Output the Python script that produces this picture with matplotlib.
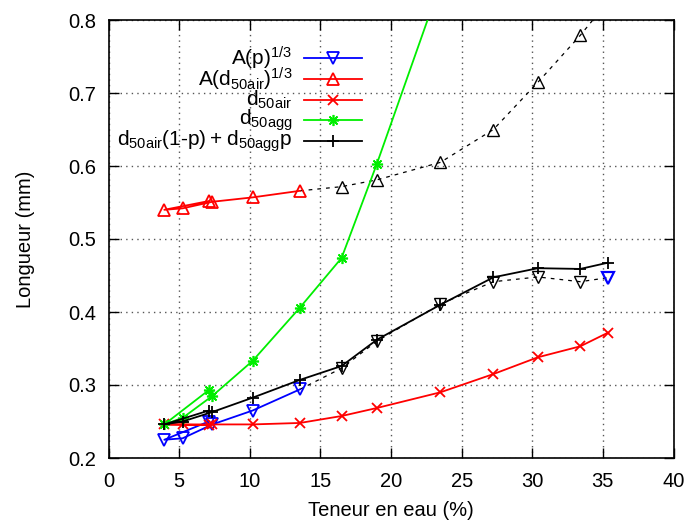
import matplotlib
matplotlib.use("Agg")
import matplotlib.pyplot as plt

plt.rcParams['font.family'] = ['Liberation Sans', 'DejaVu Sans']
plt.rcParams['mathtext.fontset'] = 'custom'
plt.rcParams['mathtext.rm'] = 'Liberation Sans'
plt.rcParams['mathtext.default'] = 'regular'

# teneur en eau (%), same order as the data file
w_dry = [7.1, 3.95, 5.25, 7.35, 10.2, 13.55]
w_wet = [16.5, 19.0, 23.5, 27.25, 30.4, 33.4]
w_last = [35.35]

ap_dry = [0.250, 0.225, 0.227, 0.246, 0.265, 0.294]
ap_wet = [0.323, 0.360, 0.411, 0.4415, 0.448, 0.4415]
ap_last = [0.447]

ad_dry = [0.552, 0.540, 0.542, 0.551, 0.557, 0.566]
ad_wet = [0.5717, 0.581, 0.605, 0.650, 0.7147, 0.779]
ad_last = [0.825]

w_all = w_dry + w_wet + w_last
d50air = [0.245, 0.246, 0.246, 0.246, 0.246, 0.248, 0.2575, 0.2685,
          0.290, 0.315, 0.338, 0.353, 0.3716]
d50agg = [0.293, 0.246, 0.255, 0.285, 0.333, 0.406, 0.474, 0.603, 0.85]
d50mix = [0.265, 0.246, 0.250, 0.263, 0.2826, 0.307, 0.326, 0.362,
          0.410, 0.4475, 0.460, 0.459, 0.4675]

blue = '#0000ff'
red = '#ff0000'
green = '#00ee00'

fig = plt.figure(figsize=(6.89, 5.24), dpi=100)
ax = fig.add_axes([108.5 / 689, 1 - 458 / 524, 565 / 689, 438 / 524])

dash = (0, (3, 4))
# dashed black continuations
ax.plot([w_dry[-1]] + w_wet + w_last, [ap_dry[-1]] + ap_wet + ap_last,
        color='black', lw=0.9, ls=dash, zorder=2)
ax.plot(w_wet, ap_wet, ls='none', marker='v', ms=9, mfc='none',
        mec='black', mew=1.0, zorder=3)
ax.plot([w_dry[-1]] + w_wet + w_last, [ad_dry[-1]] + ad_wet + ad_last,
        color='black', lw=0.9, ls=dash, zorder=2)
ax.plot(w_wet, ad_wet, ls='none', marker='^', ms=9, mfc='none',
        mec='black', mew=1.0, zorder=3)

ax.plot(w_dry, ap_dry, color=blue, lw=1.3, marker='v', ms=9, mfc='none',
        mew=1.3, zorder=4)
ax.plot(w_last, ap_last, color=blue, ls='none', marker='v', ms=9, mfc='none',
        mew=1.6, zorder=4)
ax.plot(w_dry, ad_dry, color=red, lw=1.3, marker='^', ms=9, mfc='none',
        mew=1.3, zorder=4)
ax.plot(w_all, d50air, color=red, lw=1.3, marker='x', ms=7, mew=1.3, zorder=4)
ax.plot(w_all[:len(d50agg)], d50agg, color=green, lw=1.3, marker=(8, 2, 0),
        ms=8, mew=1.2, zorder=4)
ax.plot(w_all, d50mix, color='black', lw=1.3, marker='+', ms=8, mew=1.3,
        zorder=5)

ax.set_xlim(0, 40)
ax.set_ylim(0.2, 0.8)
ax.set_xticks(range(0, 41, 5))
ax.set_yticks([0.2, 0.3, 0.4, 0.5, 0.6, 0.7, 0.8])
ax.set_yticklabels(['0.2', '0.3', '0.4', '0.5', '0.6', '0.7', '0.8'])
ax.tick_params(direction='in', length=7, width=1, top=True, right=True,
               labelsize=14.5)
ax.tick_params(axis='x', pad=10)
ax.tick_params(axis='y', pad=9)
ax.grid(True, color='#555555', ls=(0, (1, 3)), lw=1)
for s in ax.spines.values():
    s.set_linewidth(1.2)
ax.set_xlabel('Teneur en eau (%)', fontsize=14.5, labelpad=7)
ax.set_ylabel('Longueur (mm)', fontsize=14.5, labelpad=24)

# gnuplot-like key, text right-aligned
labels = [r'$A(p)^{1/3}$', r'$A(d_{50air})^{1/3}$', r'$d_{50air}$',
          r'$d_{50agg}$', r'$d_{50air}(1$-$p)+d_{50agg}p$']
styles = [dict(color=blue, marker='v', ms=9, mfc='none', mew=1.3),
          dict(color=red, marker='^', ms=9, mfc='none', mew=1.3),
          dict(color=red, marker='x', ms=7, mew=1.3),
          dict(color=green, marker=(8, 2, 0), ms=8, mew=1.2),
          dict(color='black', marker='+', ms=8, mew=1.3)]
y0 = 0.9126
for i, (lab, st) in enumerate(zip(labels, styles)):
    y = y0 - i * 0.0473
    ax.text(0.325, y, lab, transform=ax.transAxes, ha='right', va='center',
            fontsize=15, zorder=6)
    ax.plot([0.346, 0.3975, 0.449], [y, y, y], transform=ax.transAxes, lw=1.3,
            markevery=[1], clip_on=False, zorder=6, **st)

fig.savefig('out.png', dpi=100)
